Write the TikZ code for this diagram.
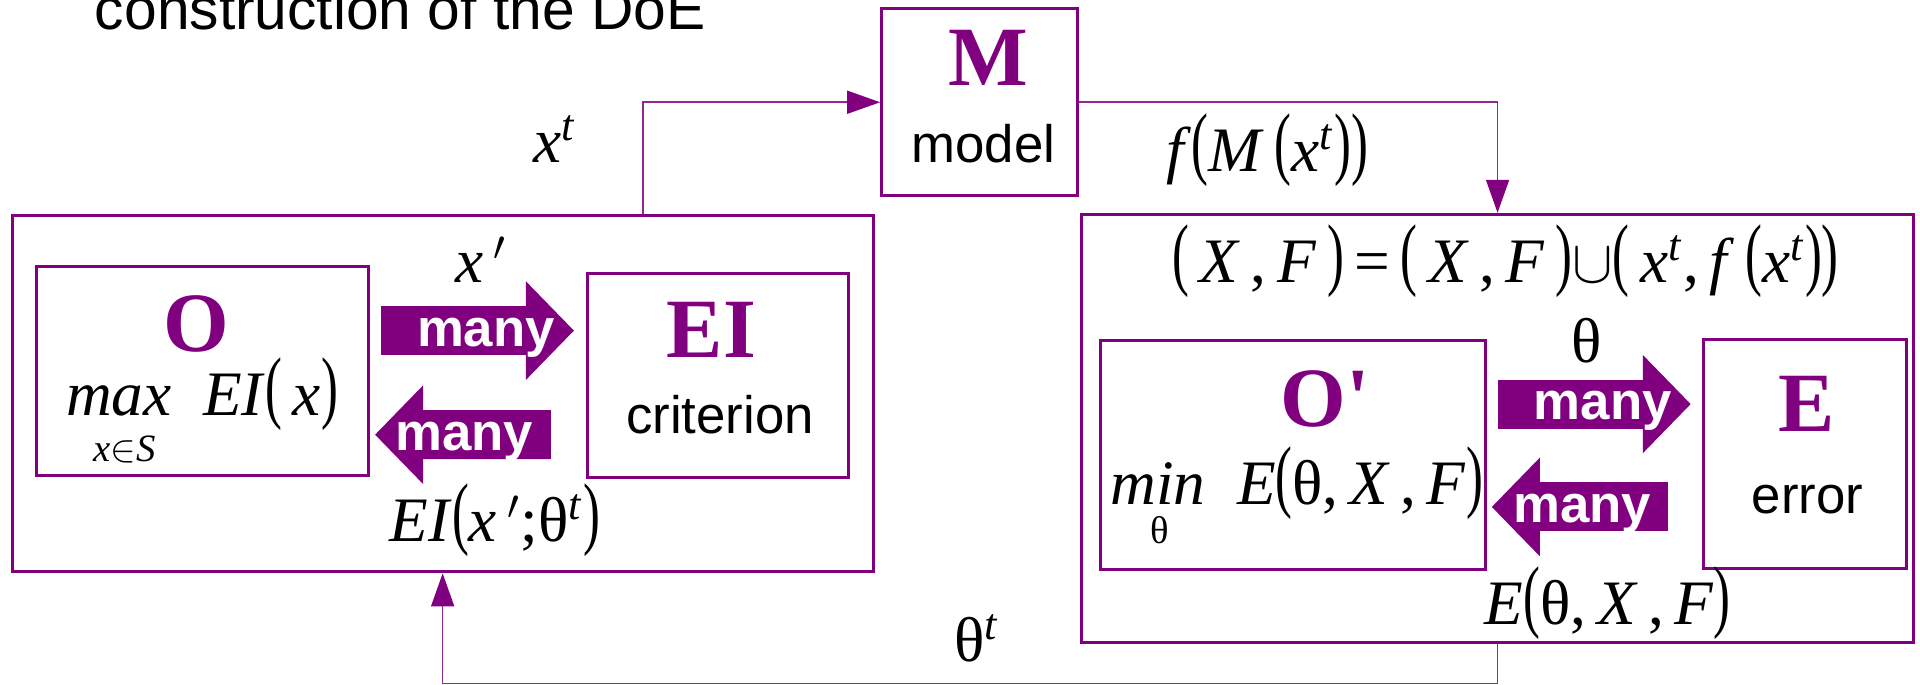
\documentclass[tikz,border=0pt]{standalone}
\usepackage{amsmath}
\usepackage{graphicx}
\usepackage{fontspec}
\setmainfont{Liberation Serif}
\setsansfont{Liberation Sans}
\usetikzlibrary{arrows.meta}
\definecolor{doepurple}{RGB}{128,0,128}
\def\px{0.012245cm}
% tall thin brackets, as in the formula editor
\newcommand{\lpar}{\raisebox{0.03em}{\scalebox{0.8}[1.27]{(}}}
\newcommand{\rpar}{\raisebox{0.03em}{\scalebox{0.8}[1.27]{)}}}
\tikzset{
  doe-box/.style={draw=doepurple, line width=0.85pt, inner sep=0pt},
  doe-head/.style={font=\fontsize{24}{24}\selectfont\bfseries, text=doepurple, inner sep=0pt, anchor=base},
  doe-word/.style={font=\sffamily\fontsize{15}{15}\selectfont, inner sep=0pt, anchor=base},
  doe-title/.style={font=\sffamily\fontsize{16.7}{17}\selectfont, inner sep=0pt, anchor=base west},
  doe-math/.style={font=\fontsize{18}{18}\selectfont, inner sep=0pt, anchor=base},
  doe-sub/.style={font=\fontsize{11}{11}\selectfont, inner sep=0pt, anchor=base},
  doe-fat/.style={doepurple, line width=0.49cm, -{Triangle[length=0.48cm, width=0.955cm]}},
  doe-many/.style={midway, anchor=base, yshift=-4.5pt, text=white, inner sep=0pt,
    font=\sffamily\bfseries\fontsize{15}{15}\selectfont},
  doe-link/.style={draw=doepurple!85, line width=0.45pt,
    -{Triangle[length=0.33cm, width=0.23cm, fill=doepurple, color=doepurple]}}
}

\begin{document}
\begin{tikzpicture}[x=\px, y=-\px]
  \useasboundingbox (0,0) rectangle (1568,559);
  \clip (0,0) rectangle (1568,559);

  % Title (cut at the top)
  \node[doe-title] (title) at (77,24) {construction of the DoE};

  % Model
  \node[doe-box, minimum width=160*\px, minimum height=153*\px] (M) at (800,83.5) {};
  \node[doe-head] (Mhead) at (807,70) {M};
  \node[doe-word] (Mword) at (803,133) {model};

  % Left loop: optimisation of EI
  \node[doe-box, minimum width=703*\px, minimum height=291*\px] (loopI) at (361.5,321.5) {};
  \node[doe-box, minimum width=271*\px, minimum height=170*\px] (O) at (165.5,303) {};
  \node[doe-head] (Ohead) at (160.5,287) {O};
  \node[doe-math] (Omax) at (165,339) {\textit{max}\ \ \textit{EI}\lpar\,\textit{x}\rpar};
  \node[doe-sub] (Osub) at (102,377) {\textit{x}$\in$\textit{S}};
  \node[doe-box, minimum width=213*\px, minimum height=167*\px] (EI) at (586.5,306.5) {};
  \node[doe-head] (EIhead) at (581,292) {EI};
  \node[doe-word] (EIword) at (588,354) {criterion};

  \draw[doe-fat] ([shift={(9,-33)}]O.east) -- ([shift={(-10,-36.5)}]EI.west)
    node[doe-many, xshift=2.4pt] {many};
  \draw[doe-fat] ([shift={(-29,48.5)}]EI.west) -- ([shift={(4,52)}]O.east)
    node[doe-many, xshift=0.4pt] {many};
  \node[doe-math] (xprime) at (393,231) {\textit{x}\,$'$};
  \node[doe-math] (EIval) at (404.5,442) {\textit{EI}\lpar\textit{x}\,$'$;θ\textsuperscript{\textit{t}}\rpar};

  % Right loop: fit of the model
  \node[doe-box, minimum width=680*\px, minimum height=350*\px] (loopE) at (1223,350) {};
  \node[doe-math] (update) at (1229.5,231)
    {\lpar\,\textit{X}\,,\,\textit{F}\,\rpar\,=\,\lpar\,\textit{X}\,,\,\textit{F}\,\rpar$\cup$\lpar\,\textit{x}\textsuperscript{\textit{t}},\,\textit{f}\,\lpar\textit{x}\textsuperscript{\textit{t}}\rpar\rpar};
  \node[doe-box, minimum width=314*\px, minimum height=187*\px] (Op) at (1056,371.5) {};
  \node[doe-head] (Ophead) at (1082,348.5) {O\textquotesingle};
  \node[doe-math] (Opmin) at (1059,412) {\textit{min}\ \ \textit{E}\lpar θ,\,\textit{X}\,,\,\textit{F}\rpar};
  \node[doe-sub] (Opsub) at (947,443.5) {θ};
  \node[doe-box, minimum width=166*\px, minimum height=187*\px] (E) at (1474,370.5) {};
  \node[doe-head] (Ehead) at (1475,352.5) {E};
  \node[doe-word] (Eword) at (1476,419) {error};

  \draw[doe-fat] ([shift={(9,-41.5)}]Op.east) -- ([shift={(-9,-40.5)}]E.west)
    node[doe-many, xshift=2.4pt] {many};
  \draw[doe-fat] ([shift={(-28,43.5)}]E.west) -- ([shift={(4,42.5)}]Op.east)
    node[doe-many, xshift=0.8pt] {many};
  \node[doe-math] (theta) at (1296,296) {θ};
  \node[doe-math] (Eval) at (1313,510) {\textit{E}\lpar θ,\,\textit{X}\,,\,\textit{F}\rpar};

  % Links between the loops and the model
  \draw[doe-link] ([shift={(163.5,0)}]loopI.north) |- (M.west);
  \draw[doe-link] (M.east) -| (loopE.north);
  \draw[doe-link] (loopE.south) -- ++(0,32) -| (loopI.south);
  \node[doe-math] (xt) at (453,133) {\textit{x}\textsuperscript{\textit{t}}};
  \node[doe-math] (fMx) at (1035,140) {\textit{f}\lpar\textit{M}\,\lpar\textit{x}\textsuperscript{\textit{t}}\rpar\rpar};
  \node[doe-math] (thetat) at (798,540.5) {θ\textsuperscript{\textit{t}}};
\end{tikzpicture}
\end{document}
